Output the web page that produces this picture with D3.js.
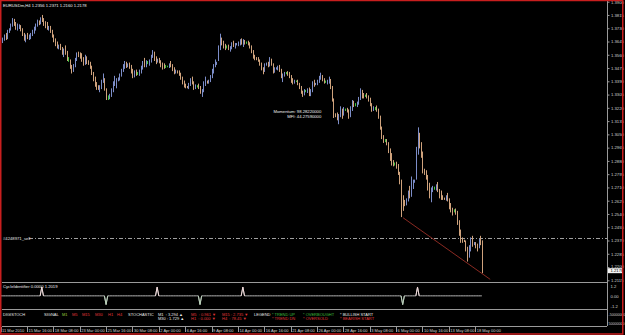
<!DOCTYPE html>
<html>
<head>
<meta charset="utf-8">
<title>EURUSDm,H4</title>
<script src="https://cdn.jsdelivr.net/npm/d3@7"></script>
<style>
  body { margin: 0; background: #000; overflow: hidden; }
  text { font-family: "Liberation Sans", Arial, sans-serif; }
</style>
</head>
<body>
<svg id="chart" width="625" height="335"></svg>
<script>
// H4 bars, 11 Mar 2010 00:00 .. 18 May 2010 16:00 (open = previous close)
var firstOpen = 1.3625;
var high = [
1.3660,1.3670,1.3690,1.3700,1.3720,1.3730, 1.3760,1.3795,1.3790,1.3770,1.3760,1.3755,
1.3750,1.3730,1.3700,1.3690,1.3700,1.3690, 1.3700,1.3720,1.3740,1.3760,1.3785,1.3780,
1.3800,1.3815,1.3795,1.3775,1.3770,1.3745, 1.3745,1.3720,1.3690,1.3665,1.3645,1.3625,
1.3630,1.3610,1.3600,1.3620,1.3585,1.3545, 1.3530,1.3495,1.3500,1.3540,1.3575,1.3580,
1.3575,1.3570,1.3545,1.3560,1.3550,1.3525, 1.3515,1.3490,1.3450,1.3420,1.3385,1.3365,
1.3365,1.3400,1.3440,1.3410,1.3345,1.3300, 1.3310,1.3345,1.3390,1.3425,1.3410,1.3415,
1.3440,1.3470,1.3500,1.3520,1.3515,1.3505, 1.3510,1.3495,1.3470,1.3460,1.3465,1.3450,
1.3465,1.3490,1.3520,1.3540,1.3525,1.3520, 1.3530,1.3560,1.3590,1.3580,1.3550,1.3535,
1.3540,1.3525,1.3510,1.3505,1.3495,1.3490, 1.3505,1.3520,1.3500,1.3480,1.3465,1.3460,
1.3460,1.3445,1.3420,1.3395,1.3375,1.3360, 1.3380,1.3410,1.3420,1.3390,1.3370,1.3365,
1.3375,1.3360,1.3340,1.3390,1.3420,1.3395, 1.3400,1.3430,1.3470,1.3500,1.3530,1.3515,
1.3620,1.3695,1.3670,1.3650,1.3630,1.3620, 1.3625,1.3615,1.3640,1.3650,1.3635,1.3635,
1.3645,1.3660,1.3665,1.3660,1.3655,1.3645, 1.3650,1.3640,1.3620,1.3590,1.3560,1.3545,
1.3545,1.3530,1.3510,1.3480,1.3505,1.3510, 1.3515,1.3545,1.3535,1.3505,1.3480,1.3480,
1.3490,1.3495,1.3470,1.3440,1.3450,1.3450, 1.3455,1.3450,1.3430,1.3410,1.3400,1.3395,
1.3400,1.3380,1.3360,1.3330,1.3340,1.3335, 1.3345,1.3350,1.3340,1.3390,1.3400,1.3380,
1.3400,1.3425,1.3445,1.3430,1.3410,1.3395, 1.3400,1.3420,1.3405,1.3360,1.3280,1.3185,
1.3190,1.3180,1.3230,1.3215,1.3225,1.3215, 1.3220,1.3210,1.3230,1.3270,1.3265,1.3250,
1.3260,1.3290,1.3345,1.3335,1.3315,1.3305, 1.3315,1.3300,1.3285,1.3250,1.3230,1.3225,
1.3235,1.3215,1.3170,1.3100,1.3045,1.3020, 1.3020,1.3000,1.2960,1.2930,1.2885,1.2870,
1.2875,1.2860,1.2810,1.2760,1.2660,1.2630, 1.2640,1.2690,1.2720,1.2780,1.2760,1.2760,
1.2970,1.3095,1.3060,1.3000,1.2940,1.2830, 1.2820,1.2790,1.2740,1.2710,1.2720,1.2715,
1.2730,1.2745,1.2700,1.2690,1.2660,1.2645, 1.2660,1.2675,1.2640,1.2610,1.2580,1.2570,
1.2575,1.2560,1.2500,1.2440,1.2390,1.2375, 1.2370,1.2330,1.2340,1.2390,1.2400,1.2360,
1.2360,1.2350,1.2380,1.2400,1.2371
];
var low = [
1.3625,1.3635,1.3650,1.3655,1.3660,1.3700, 1.3715,1.3740,1.3745,1.3720,1.3715,1.3725,
1.3710,1.3680,1.3650,1.3640,1.3660,1.3655, 1.3660,1.3680,1.3695,1.3715,1.3740,1.3750,
1.3755,1.3770,1.3745,1.3730,1.3720,1.3715, 1.3700,1.3670,1.3640,1.3615,1.3600,1.3595,
1.3590,1.3560,1.3545,1.3560,1.3520,1.3515, 1.3470,1.3440,1.3450,1.3480,1.3520,1.3545,
1.3535,1.3515,1.3490,1.3495,1.3500,1.3495, 1.3470,1.3430,1.3390,1.3355,1.3335,1.3335,
1.3320,1.3340,1.3380,1.3330,1.3270,1.3270, 1.3275,1.3290,1.3320,1.3360,1.3345,1.3390,
1.3395,1.3420,1.3450,1.3470,1.3475,1.3480, 1.3470,1.3440,1.3410,1.3415,1.3425,1.3430,
1.3425,1.3440,1.3465,1.3480,1.3480,1.3500, 1.3490,1.3510,1.3540,1.3520,1.3500,1.3510,
1.3505,1.3480,1.3465,1.3470,1.3475,1.3480, 1.3475,1.3480,1.3455,1.3435,1.3440,1.3440,
1.3425,1.3400,1.3370,1.3350,1.3345,1.3345, 1.3340,1.3360,1.3370,1.3335,1.3340,1.3350,
1.3340,1.3310,1.3290,1.3320,1.3360,1.3375, 1.3375,1.3385,1.3410,1.3440,1.3480,1.3495,
1.3520,1.3590,1.3620,1.3600,1.3590,1.3600, 1.3590,1.3580,1.3595,1.3610,1.3600,1.3620,
1.3615,1.3620,1.3625,1.3610,1.3625,1.3630, 1.3620,1.3600,1.3570,1.3535,1.3525,1.3525,
1.3515,1.3490,1.3460,1.3435,1.3450,1.3490, 1.3480,1.3485,1.3490,1.3440,1.3445,1.3465,
1.3460,1.3450,1.3410,1.3385,1.3420,1.3435, 1.3425,1.3410,1.3380,1.3370,1.3375,1.3385,
1.3365,1.3340,1.3310,1.3290,1.3300,1.3320, 1.3315,1.3295,1.3295,1.3320,1.3355,1.3365,
1.3365,1.3380,1.3400,1.3390,1.3375,1.3380, 1.3370,1.3375,1.3340,1.3260,1.3155,1.3160,
1.3140,1.3115,1.3160,1.3150,1.3170,1.3200, 1.3190,1.3150,1.3160,1.3200,1.3225,1.3230,
1.3225,1.3240,1.3270,1.3280,1.3280,1.3290, 1.3280,1.3260,1.3230,1.3195,1.3200,1.3205,
1.3195,1.3150,1.3080,1.3020,1.2995,1.3000, 1.2980,1.2930,1.2880,1.2850,1.2845,1.2850,
1.2830,1.2790,1.2730,1.2520,1.2560,1.2590, 1.2595,1.2620,1.2640,1.2650,1.2700,1.2740,
1.2760,1.2920,1.2960,1.2900,1.2800,1.2790, 1.2760,1.2690,1.2640,1.2615,1.2680,1.2695,
1.2690,1.2680,1.2640,1.2630,1.2630,1.2630, 1.2625,1.2620,1.2570,1.2550,1.2530,1.2550,
1.2535,1.2470,1.2400,1.2355,1.2355,1.2360, 1.2300,1.2235,1.2260,1.2300,1.2330,1.2340,
1.2320,1.2300,1.2320,1.2340,1.2160
];
var close = [
1.3645,1.3660,1.3680,1.3665,1.3710,1.3720, 1.3750,1.3780,1.3755,1.3735,1.3740,1.3745,
1.3720,1.3690,1.3665,1.3680,1.3670,1.3675, 1.3690,1.3710,1.3730,1.3750,1.3770,1.3765,
1.3790,1.3785,1.3760,1.3745,1.3730,1.3735, 1.3710,1.3680,1.3650,1.3630,1.3610,1.3615,
1.3600,1.3570,1.3590,1.3575,1.3530,1.3530, 1.3480,1.3460,1.3490,1.3530,1.3560,1.3555,
1.3545,1.3525,1.3510,1.3540,1.3515,1.3505, 1.3480,1.3440,1.3400,1.3370,1.3350,1.3345,
1.3350,1.3390,1.3400,1.3340,1.3285,1.3285, 1.3300,1.3335,1.3375,1.3380,1.3400,1.3410,
1.3430,1.3460,1.3485,1.3495,1.3490,1.3495, 1.3480,1.3455,1.3425,1.3450,1.3440,1.3440,
1.3455,1.3480,1.3500,1.3490,1.3510,1.3510, 1.3520,1.3550,1.3570,1.3535,1.3520,1.3525,
1.3515,1.3495,1.3490,1.3485,1.3485,1.3485, 1.3495,1.3490,1.3465,1.3450,1.3455,1.3450,
1.3435,1.3410,1.3380,1.3365,1.3355,1.3350, 1.3370,1.3395,1.3380,1.3350,1.3360,1.3360,
1.3350,1.3320,1.3330,1.3370,1.3390,1.3385, 1.3395,1.3420,1.3455,1.3490,1.3500,1.3505,
1.3600,1.3660,1.3635,1.3615,1.3610,1.3610, 1.3600,1.3605,1.3630,1.3620,1.3625,1.3630,
1.3635,1.3650,1.3640,1.3645,1.3640,1.3640, 1.3630,1.3610,1.3580,1.3545,1.3535,1.3530,
1.3525,1.3500,1.3470,1.3460,1.3495,1.3505, 1.3495,1.3530,1.3500,1.3455,1.3470,1.3475,
1.3480,1.3460,1.3420,1.3430,1.3440,1.3440, 1.3435,1.3420,1.3390,1.3385,1.3390,1.3390,
1.3375,1.3350,1.3320,1.3310,1.3330,1.3330, 1.3335,1.3310,1.3330,1.3375,1.3370,1.3375,
1.3390,1.3410,1.3420,1.3400,1.3385,1.3385, 1.3390,1.3395,1.3350,1.3270,1.3170,1.3165,
1.3150,1.3170,1.3200,1.3180,1.3210,1.3210, 1.3200,1.3165,1.3215,1.3255,1.3240,1.3240,
1.3250,1.3280,1.3320,1.3300,1.3295,1.3295, 1.3290,1.3275,1.3240,1.3210,1.3215,1.3215,
1.3205,1.3160,1.3090,1.3035,1.3010,1.3010, 1.2990,1.2945,1.2900,1.2870,1.2860,1.2860,
1.2845,1.2800,1.2745,1.2620,1.2610,1.2605, 1.2630,1.2680,1.2665,1.2730,1.2750,1.2755,
1.2940,1.3040,1.2990,1.2920,1.2820,1.2800, 1.2780,1.2710,1.2660,1.2690,1.2705,1.2705,
1.2720,1.2690,1.2660,1.2650,1.2640,1.2635, 1.2650,1.2630,1.2590,1.2570,1.2560,1.2560,
1.2545,1.2490,1.2420,1.2375,1.2370,1.2365, 1.2320,1.2280,1.2320,1.2370,1.2345,1.2350,
1.2335,1.2330,1.2370,1.2356,1.2178
];

var priceTicks = [1.3900,1.3815,1.3730,1.3645,1.3560,1.3475,1.3390,1.3305,1.3220,1.3135,1.3050,
  1.2965,1.2880,1.2795,1.2710,1.2625,1.2540,1.2455,1.2370,1.2285,1.2200,1.2115];
var timeLabels = ["11 Mar 2010","15 Mar 16:00","18 Mar 08:00","23 Mar 00:00","25 Mar 16:00",
  "30 Mar 08:00","2 Apr 00:00","6 Apr 16:00","9 Apr 08:00","14 Apr 00:00","16 Apr 16:00",
  "21 Apr 08:00","26 Apr 00:00","28 Apr 16:00","3 May 08:00","6 May 00:00","10 May 16:00",
  "13 May 08:00","18 May 00:00"];
var timeLabelBars = [0,16,32,48,64,80,96,112,128,144,160,176,192,208,224,240,256,272,288];

var sellLevel = 1.2386;
var trendLine = [{bar: 244.2, price: 1.2516}, {bar: 297.1, price: 1.2121}];

// CycleIdentifier peaks
var cycleUp = [25, 95, 147, 253];
var cycleDown = [64, 121, 244];
var cycleTicks = [1.2, 0, -1.2];

var svg = d3.select("#chart");
var W = 625, H = 335;
var axisX = 607;
var gray = "#9a9a9a";
var fs = 4.2;

var x = d3.scaleLinear().domain([0, 292]).range([0.6, 481.8]);
var y = d3.scaleLinear().domain([1.2115, 1.3900]).range([280.3, 1.7]);
var yc = d3.scaleLinear().domain([-1.2, 1.2]).range([306, 285.7]);

function px(v) { return Math.round(v) + 0.5; }

svg.append("rect").attr("width", W).attr("height", H).attr("fill", "#000");

svg.append("clipPath").attr("id", "mainClip")
  .append("rect").attr("x", 2).attr("y", 1).attr("width", axisX - 2).attr("height", 281);

var main = svg.append("g").attr("clip-path", "url(#mainClip)");

// sell order level (dash-dot)
main.append("line")
  .attr("x1", 29).attr("x2", axisX)
  .attr("y1", px(y(sellLevel))).attr("y2", px(y(sellLevel)))
  .attr("stroke", "#a0a0a0").attr("stroke-width", 1)
  .attr("stroke-dasharray", "4,2,1,2");
main.append("text").attr("x", 3).attr("y", y(sellLevel) + 1.5)
  .attr("font-size", fs).attr("fill", "#e6e6e6").text("#4248971_sell");

// bars
var bars = close.map(function (c, i) {
  var o = i === 0 ? firstOpen : close[i - 1];
  return {i: i, o: o, h: high[i], l: low[i], c: c};
});
main.selectAll("line.bar").data(bars).enter().append("line")
  .attr("class", "bar")
  .attr("x1", function (d) { return px(x(d.i)); })
  .attr("x2", function (d) { return px(x(d.i)); })
  .attr("y1", function (d) { return y(d.h); })
  .attr("y2", function (d) { return y(d.l); })
  .attr("stroke", function (d) {
    if (d.c > d.o) return "#7c8dc8";
    if (d.c < d.o) return "#cfa27c";
    return "#3fc83f";
  })
  .attr("stroke-width", 1);

// trend line
main.append("line")
  .attr("x1", x(trendLine[0].bar)).attr("y1", y(trendLine[0].price))
  .attr("x2", x(trendLine[1].bar)).attr("y2", y(trendLine[1].price))
  .attr("stroke", "#8a2a22").attr("stroke-width", 1);

// annotations
var ann = main.append("g").attr("font-size", fs).attr("fill", "#f0f0f0").attr("text-anchor", "end");
ann.append("text").attr("x", x(194.6)).attr("y", y(1.3187)).text("Momentum: 98.28220000");
ann.append("text").attr("x", x(194.6)).attr("y", y(1.3158)).text("MFI: 44.27590000");

svg.append("text").attr("x", 3).attr("y", 6.5).attr("font-size", fs).attr("fill", "#f0f0f0")
  .text("EURUSDm,H4  1.2356 1.2371 1.2160 1.2178");

// panel separators and axis
var seps = [282, 309, 326];
svg.selectAll("line.sep").data(seps).enter().append("line")
  .attr("class", "sep")
  .attr("x1", 2).attr("x2", axisX)
  .attr("y1", function (d) { return d + 0.5; }).attr("y2", function (d) { return d + 0.5; })
  .attr("stroke", gray);
svg.append("line").attr("x1", axisX + 0.5).attr("x2", axisX + 0.5).attr("y1", 0).attr("y2", 326)
  .attr("stroke", gray);

// price axis
var yAxis = d3.axisRight(y).tickValues(priceTicks).tickSize(2).tickFormat(d3.format(".4f"));
var ya = svg.append("g").attr("transform", "translate(" + (axisX + 0.5) + ",0)").call(yAxis);
ya.select(".domain").remove();
ya.selectAll("line").attr("stroke", gray);
ya.selectAll("text").attr("font-size", fs).attr("fill", "#d0d0d0").attr("x", 3.5)
  .attr("font-family", "Liberation Sans, Arial, sans-serif");
// the 1.2200 label sits just above the current-price box
ya.selectAll(".tick").filter(function (d) { return d === 1.22; }).select("text").attr("dy", "0.2em");

// current price marker
var cur = close[close.length - 1];
svg.append("rect").attr("x", axisX + 1).attr("y", y(cur) - 2.3).attr("width", 15).attr("height", 5)
  .attr("fill", "#f4f4f4");
svg.append("text").attr("x", axisX + 3.5).attr("y", y(cur) + 1.6).attr("font-size", fs)
  .attr("fill", "#000").text(d3.format(".4f")(cur));

// CycleIdentifier subwindow
var cycle = close.map(function (c, i) {
  return {i: i, v: cycleUp.indexOf(i) >= 0 ? 1 : (cycleDown.indexOf(i) >= 0 ? -1 : 0)};
});
svg.append("path").datum(cycle)
  .attr("d", d3.line().x(function (d) { return x(d.i); }).y(function (d) { return yc(d.v); }))
  .attr("fill", "none").attr("stroke", "#b4b4b4").attr("stroke-width", 1);
svg.selectAll("path.up").data(cycleUp).enter().append("path")
  .attr("d", function (b) {
    return d3.line()([[x(b - 1), yc(0)], [x(b), yc(1.05)], [x(b + 1), yc(0)]]);
  })
  .attr("fill", "none").attr("stroke", "#f0d8d8").attr("stroke-width", 1);
svg.selectAll("path.dn").data(cycleDown).enter().append("path")
  .attr("d", function (b) {
    return d3.line()([[x(b - 1), yc(0)], [x(b), yc(-1.05)], [x(b + 1), yc(0)]]);
  })
  .attr("fill", "none").attr("stroke", "#b8d0b8").attr("stroke-width", 1);
svg.append("text").attr("x", 3).attr("y", 288).attr("font-size", fs).attr("fill", "#f0f0f0")
  .text("CycleIdentifier 0.0000 1.2019");
var yca = svg.append("g").attr("transform", "translate(" + (axisX + 0.5) + ",0)")
  .call(d3.axisRight(yc).tickValues(cycleTicks).tickSize(0).tickFormat(function (d) {
    return d === 0 ? "0.00" : String(d);
  }));
yca.select(".domain").remove();
yca.selectAll("text").attr("font-size", fs).attr("fill", "#d0d0d0").attr("x", 3)
  .attr("font-family", "Liberation Sans, Arial, sans-serif");

// DIGISTOCH subwindow
var red = "#e0383a", green = "#3fbf3f", white = "#e8e8e8";
var legend = [
  {t: "DIGISTOCH", x: 3, r: 0, c: white},
  {t: "SIGNAL", x: 44, r: 0, c: white},
  {t: "M1", x: 62, r: 0, c: "#9ccc3c"},
  {t: "M5", x: 72, r: 0, c: red},
  {t: "M15", x: 82, r: 0, c: red},
  {t: "M30", x: 95, r: 0, c: red},
  {t: "H1", x: 108, r: 0, c: red},
  {t: "H4", x: 117, r: 0, c: red},
  {t: "STOCHASTIC", x: 128, r: 0, c: white},
  {t: "M1  : 3.294 \u25B2", x: 158, r: 0, c: white},
  {t: "M30 : 1.729 \u25B2", x: 158, r: 1, c: white},
  {t: "M5  : 0.961 \u25BC", x: 191, r: 0, c: red},
  {t: "H1  : 0.000 \u25BC", x: 191, r: 1, c: red},
  {t: "M15 : 2.735 \u25BC", x: 222, r: 0, c: red},
  {t: "H4  : 78.45 \u25BC", x: 222, r: 1, c: red},
  {t: "LEGEND", x: 254, r: 0, c: white},
  {t: "* TREND UP", x: 272, r: 0, c: green},
  {t: "* TREND DN", x: 272, r: 1, c: red},
  {t: "* OVERBOUGHT", x: 303, r: 0, c: green},
  {t: "* OVERSOLD", x: 303, r: 1, c: red},
  {t: "* BULLISH START", x: 340, r: 0, c: white},
  {t: "* BEARISH START", x: 340, r: 1, c: red}
];
svg.selectAll("text.leg").data(legend).enter().append("text")
  .attr("class", "leg")
  .attr("x", function (d) { return d.x; })
  .attr("y", function (d) { return 315.5 + d.r * 4; })
  .attr("font-size", 4)
  .attr("fill", function (d) { return d.c; })
  .attr("xml:space", "preserve")
  .text(function (d) { return d.t; });
svg.append("text").attr("x", axisX + 1.5).attr("y", 315.5).attr("font-size", 3.6).attr("fill", "#d0d0d0")
  .text("-50000000");
svg.append("text").attr("x", axisX + 1.5).attr("y", 325).attr("font-size", 3.6).attr("fill", "#d0d0d0")
  .text("50000000");

// time axis
var tx = svg.append("g").attr("class", "time");
tx.selectAll("line").data(timeLabelBars).enter().append("line")
  .attr("x1", function (d) { return px(x(d)); }).attr("x2", function (d) { return px(x(d)); })
  .attr("y1", 327).attr("y2", 332).attr("stroke", gray);
tx.selectAll("text").data(timeLabelBars).enter().append("text")
  .attr("x", function (d) { return x(d) + 1.5; })
  .attr("y", 332)
  .attr("font-size", 4)
  .attr("fill", "#d0d0d0")
  .text(function (d, i) { return timeLabels[i]; });

// red frame
svg.append("rect").attr("x", 0.75).attr("y", 0.5).attr("width", W - 3).attr("height", H - 1.5)
  .attr("fill", "none").attr("stroke", "#c81e1e").attr("stroke-width", 1.5);
</script>
</body>
</html>
